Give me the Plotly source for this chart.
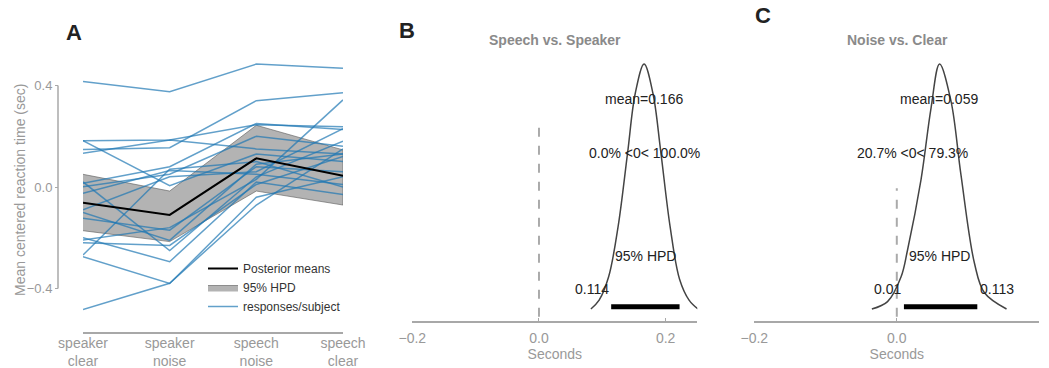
import plotly.graph_objects as go

W, H = 1049, 368

# ---------------- Panel A data ----------------
categories = ["speaker clear", "speaker noise", "speech noise", "speech clear"]
tick_labels = ["speaker<br>clear", "speaker<br>noise", "speech<br>noise", "speech<br>clear"]

posterior_means = [-0.062, -0.110, 0.113, 0.044]
hpd_upper = [0.050, -0.016, 0.243, 0.146]
hpd_lower = [-0.172, -0.215, -0.016, -0.071]

subjects = [
    [0.415, 0.375, 0.484, 0.468],
    [0.182, 0.185, 0.245, 0.237],
    [0.182, 0.005, 0.130, 0.100],
    [0.148, 0.155, 0.340, 0.371],
    [0.133, 0.185, 0.150, 0.130],
    [0.015, 0.080, 0.250, 0.226],
    [0.001, 0.050, 0.200, 0.160],
    [-0.025, 0.065, 0.050, 0.010],
    [-0.090, 0.040, 0.060, 0.230],
    [-0.123, -0.170, 0.080, 0.060],
    [-0.209, -0.160, 0.030, 0.343],
    [-0.219, -0.230, 0.010, 0.120],
    [-0.268, 0.070, 0.100, 0.000],
    [-0.274, -0.380, -0.040, 0.040],
    [-0.482, -0.379, -0.071, 0.150],
    [-0.200, -0.294, 0.020, -0.030],
    [-0.100, -0.210, 0.090, 0.130],
    [0.020, -0.250, 0.040, 0.180],
]
y_ticks_A = [-0.4, 0.0, 0.4]

# ---------------- Panel B data ----------------
b_x = [0.082, 0.095, 0.110, 0.125, 0.140, 0.152, 0.166, 0.180, 0.192, 0.207, 0.222, 0.237, 0.251]
b_h = [0.004, 0.04, 0.135, 0.34, 0.64, 0.88, 1.0, 0.88, 0.65, 0.34, 0.125, 0.04, 0.004]
b_hpd = [0.114, 0.222]
b_mean_text = "mean=0.166"
b_prob_text = "0.0% <0< 100.0%"
b_title = "Speech vs. Speaker"

# ---------------- Panel C data ----------------
c_x = [-0.035, -0.013, 0.006, 0.015, 0.034, 0.048, 0.060, 0.076, 0.090, 0.109, 0.123, 0.154]
c_h = [0.004, 0.034, 0.135, 0.243, 0.53, 0.82, 1.0, 0.85, 0.55, 0.19, 0.07, 0.004]
c_hpd = [0.01, 0.113]
c_mean_text = "mean=0.059"
c_prob_text = "20.7% <0< 79.3%"
c_title = "Noise vs. Clear"

ref_val = 0.0
ref_top_b = 0.76
ref_top_c = 0.495
ref_bottom = -0.027
x_ticks_BC = [-0.2, 0.0, 0.2]

FONT = "Liberation Sans, Arial, sans-serif"
GRAY = "#999999"
SPINE = "#a8a8a8"
BLUE = "rgba(31,119,180,0.7)"

fig = go.Figure()

# HPD band
fig.add_trace(go.Scatter(
    x=categories + categories[::-1], y=hpd_upper + hpd_lower[::-1],
    fill="toself", fillcolor="rgba(128,128,128,0.6)",
    line=dict(color="rgba(90,90,90,0.6)", width=1),
    mode="lines", name="95% HPD", legendrank=2, hoverinfo="skip",
    xaxis="x", yaxis="y"))

for i, s in enumerate(subjects):
    fig.add_trace(go.Scatter(
        x=categories, y=s, mode="lines", line=dict(color=BLUE, width=1.5),
        name="responses/subject", showlegend=(i == 0), legendrank=3,
        xaxis="x", yaxis="y"))

fig.add_trace(go.Scatter(
    x=categories, y=posterior_means, mode="lines",
    line=dict(color="black", width=2), name="Posterior means", legendrank=1,
    xaxis="x", yaxis="y"))

# Panel B
fig.add_trace(go.Scatter(x=b_x, y=b_h, mode="lines", line=dict(color="#444", width=1.5, shape="spline"),
                         showlegend=False, xaxis="x2", yaxis="y2"))
fig.add_trace(go.Scatter(x=b_hpd, y=[0.013, 0.013], mode="lines", line=dict(color="black", width=5),
                         showlegend=False, xaxis="x2", yaxis="y2"))
fig.add_trace(go.Scatter(x=[ref_val, ref_val], y=[ref_bottom, ref_top_b], mode="lines",
                         line=dict(color="#aaaaaa", width=2, dash="dash"),
                         showlegend=False, xaxis="x2", yaxis="y2"))

# Panel C
fig.add_trace(go.Scatter(x=c_x, y=c_h, mode="lines", line=dict(color="#444", width=1.5, shape="spline"),
                         showlegend=False, xaxis="x3", yaxis="y3"))
fig.add_trace(go.Scatter(x=c_hpd, y=[0.013, 0.013], mode="lines", line=dict(color="black", width=5),
                         showlegend=False, xaxis="x3", yaxis="y3"))
fig.add_trace(go.Scatter(x=[ref_val, ref_val], y=[ref_bottom, ref_top_c], mode="lines",
                         line=dict(color="#aaaaaa", width=2, dash="dash"),
                         showlegend=False, xaxis="x3", yaxis="y3"))

def px_x(p):
    return p / W

def px_y(p):
    return (H - p) / H

annos = []
def txt(x, y, t, xref, yref, size=14, color="#222", bold=False, **kw):
    annos.append(dict(x=x, y=y, xref=xref, yref=yref, text=("<b>%s</b>" % t) if bold else t,
                      xanchor="center", yanchor="middle",
                      showarrow=False, font=dict(family=FONT, size=size, color=color), **kw))

# panel letters
txt(px_x(74), px_y(32), "A", "paper", "paper", size=22, bold=True)
txt(px_x(407), px_y(31), "B", "paper", "paper", size=22, bold=True)
txt(px_x(763), px_y(16), "C", "paper", "paper", size=22, bold=True)
# titles
txt(px_x(555), px_y(40), b_title, "paper", "paper", size=14, color="#8a8a8a", bold=True)
txt(px_x(897), px_y(40), c_title, "paper", "paper", size=14, color="#8a8a8a", bold=True)
# y title for A
txt(px_x(20), px_y(190), "Mean centered reaction time (sec)", "paper", "paper", size=14,
    color=GRAY, textangle=-90)

# B annotations
txt(0.166, 0.858, b_mean_text, "x2", "y2")
txt(0.166, 0.638, b_prob_text, "x2", "y2")
txt(0.168, 0.22, "95% HPD", "x2", "y2")
txt(0.084, 0.085, "%g" % b_hpd[0], "x2", "y2")
txt(0.251, 0.085, "%g" % b_hpd[1], "x2", "y2")
# C annotations
txt(0.059, 0.858, c_mean_text, "x3", "y3")
txt(0.022, 0.638, c_prob_text, "x3", "y3")
txt(0.060, 0.22, "95% HPD", "x3", "y3")
txt(-0.013, 0.085, "%g" % c_hpd[0], "x3", "y3")
txt(0.140, 0.085, "%g" % c_hpd[1], "x3", "y3")

shapes = [dict(type="line", xref="paper", yref="y", x0=px_x(58), x1=px_x(58),
               y0=y_ticks_A[0], y1=y_ticks_A[-1], line=dict(color=SPINE, width=1.5))]

ydom = [px_y(314), px_y(60)]
ydom_bc = [px_y(320), px_y(60)]
hrange = [-10 / 246, 250 / 246]

fig.update_layout(
    width=W, height=H, margin=dict(l=0, r=0, t=0, b=0, autoexpand=False),
    paper_bgcolor="white", plot_bgcolor="rgba(0,0,0,0)",
    font=dict(family=FONT, color=GRAY),
    annotations=annos, shapes=shapes,
    legend=dict(x=px_x(203), y=px_y(254), xanchor="left", yanchor="top",
                bgcolor="rgba(0,0,0,0)", font=dict(family=FONT, size=12, color="#333"),
                itemwidth=30, tracegroupgap=0, traceorder="normal"),
    xaxis=dict(domain=[px_x(83), px_x(343)], type="category", categoryorder="array",
               categoryarray=categories, range=[0, 3], anchor="free", position=px_y(333),
               automargin=False,
               showline=True, linecolor=SPINE, linewidth=1.5, showgrid=False, zeroline=False,
               tickvals=categories, ticktext=tick_labels, ticks="", ticklabelstandoff=-3,
               tickfont=dict(family=FONT, size=14, color=GRAY)),
    yaxis=dict(domain=ydom, range=[-0.5, 0.5], anchor="free", position=px_x(58),
               automargin=False,
               showline=False, showgrid=False, zeroline=False, tickvals=y_ticks_A,
               tickformat=".1f", ticks="outside", ticklen=3, tickcolor=SPINE,
               tickfont=dict(family=FONT, size=13, color=GRAY)),
    xaxis2=dict(domain=[px_x(412.3), px_x(697.3)], range=[-0.2, 0.25], anchor="free",
                automargin=False,
                position=px_y(322.3), showline=True, linecolor=SPINE, linewidth=1.5,
                showgrid=False, zeroline=False, tickvals=x_ticks_BC, tickformat=".1f",
                ticks="inside", ticklen=4, tickcolor=SPINE, ticklabelstandoff=3,
                tickfont=dict(family=FONT, size=14, color=GRAY),
                title=dict(text="Seconds", standoff=3, font=dict(family=FONT, size=14, color=GRAY))),
    yaxis2=dict(domain=ydom_bc, range=hrange, anchor="x2", visible=False, automargin=False),
    xaxis3=dict(domain=[px_x(754.3), px_x(1039.3)], range=[-0.2, 0.2], anchor="free",
                automargin=False,
                position=px_y(322.3), showline=True, linecolor=SPINE, linewidth=1.5,
                showgrid=False, zeroline=False, tickvals=x_ticks_BC, tickformat=".1f",
                ticks="inside", ticklen=4, tickcolor=SPINE, ticklabelstandoff=3,
                tickfont=dict(family=FONT, size=14, color=GRAY),
                title=dict(text="Seconds", standoff=3, font=dict(family=FONT, size=14, color=GRAY))),
    yaxis3=dict(domain=ydom_bc, range=hrange, anchor="x3", visible=False, automargin=False),
)

fig.write_html("out.html", config={"displayModeBar": False},
               post_script="document.body.style.margin='0';document.body.style.overflow='hidden';")
